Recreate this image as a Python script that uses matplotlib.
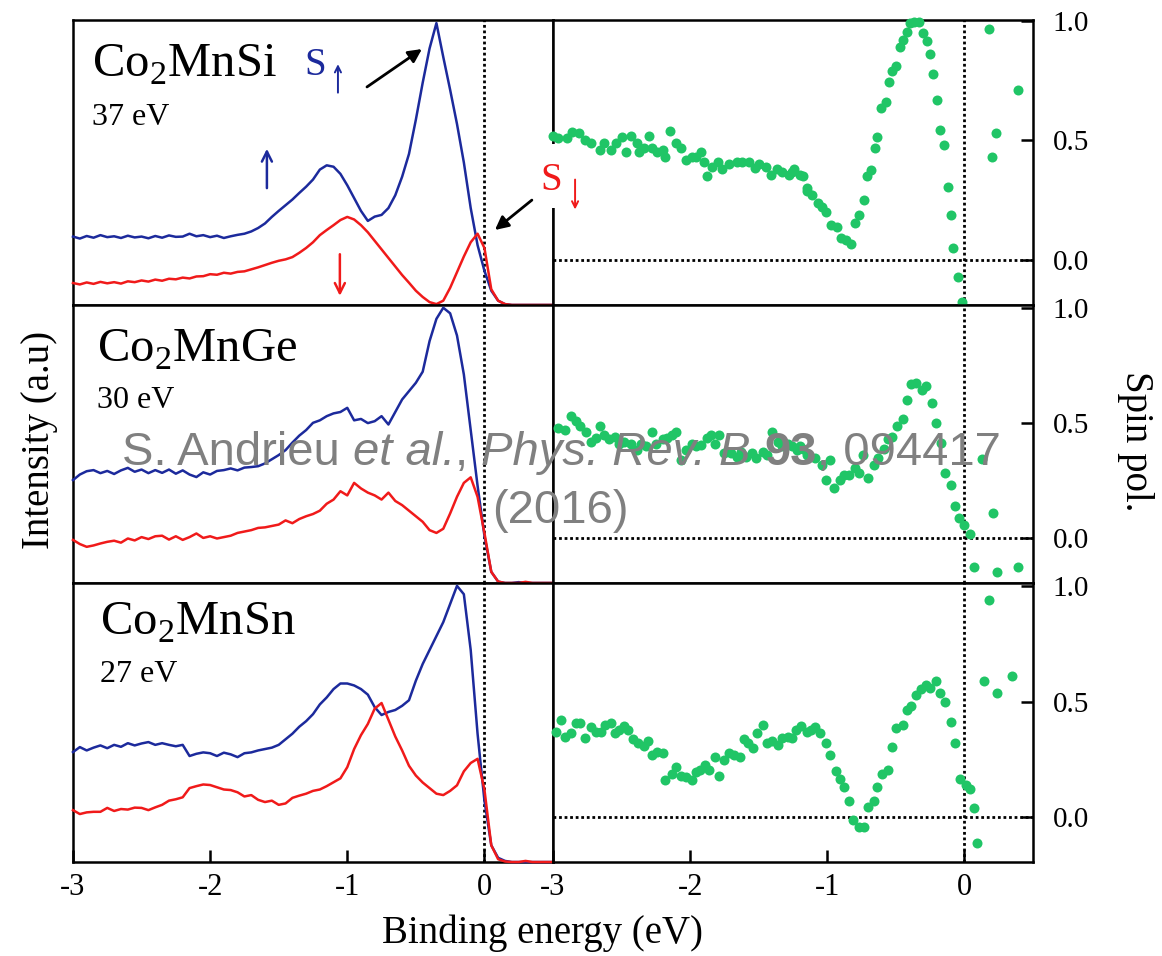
import matplotlib
matplotlib.use("Agg")
import matplotlib.pyplot as plt
from matplotlib.patches import FancyArrowPatch, Rectangle

plt.rcParams['font.family'] = ['Liberation Serif', 'DejaVu Serif']
plt.rcParams['axes.unicode_minus'] = False

# ---------------- data ----------------
compounds = ['Co$_{\\mathregular{2}}$MnSi', 'Co$_{\\mathregular{2}}$MnGe', 'Co$_{\\mathregular{2}}$MnSn']
photon = ['37 eV', '30 eV', '27 eV']

energy = [-3.00, -2.95, -2.90, -2.85, -2.80, -2.75, -2.70, -2.65, -2.60, -2.55,
          -2.50, -2.45, -2.40, -2.35, -2.30, -2.25, -2.20, -2.15, -2.10, -2.05,
          -2.00, -1.95, -1.90, -1.85, -1.80, -1.75, -1.70, -1.65, -1.60, -1.55,
          -1.50, -1.45, -1.40, -1.35, -1.30, -1.25, -1.20, -1.15, -1.10, -1.05,
          -1.00, -0.95, -0.90, -0.85, -0.80, -0.75, -0.70, -0.65, -0.60, -0.55,
          -0.50, -0.45, -0.40, -0.35, -0.30, -0.25, -0.20, -0.15, -0.10, -0.05,
          0.00, 0.05, 0.10, 0.15, 0.20, 0.25, 0.30, 0.35, 0.40, 0.45, 0.50]

# intensities in % of panel height
si_up = [24.0, 23.3, 24.2, 23.6, 24.5, 23.8, 24.1, 23.5, 24.3, 23.7,
         24.0, 23.4, 24.2, 23.6, 24.4, 23.9, 24.0, 25.0, 24.1, 24.5,
         23.8, 24.3, 23.5, 24.1, 24.6, 25.0, 25.8, 27.0, 28.6, 30.9,
         33.0, 35.0, 37.0, 39.3, 41.5, 44.0, 47.5, 49.0, 48.5, 46.0,
         42.0, 37.5, 33.0, 29.5, 31.0, 31.6, 34.0, 38.5, 45.0, 53.0,
         65.0, 78.0, 90.0, 98.9, 87.0, 75.5, 63.5, 50.0, 34.0, 21.0,
         12.0, 5.0, 1.5, 0.3, 0.0, 0.0, 0.0, 0.0, 0.0, 0.0, 0.0]
si_dn = [7.7, 7.2, 7.9, 7.4, 8.1, 7.6, 8.0, 7.5, 8.3, 8.0,
         8.6, 8.2, 8.9, 8.5, 9.2, 9.0, 9.6, 9.3, 10.0, 10.1,
         10.8, 10.6, 11.3, 11.0, 11.6, 11.8, 12.5, 13.2, 14.0, 14.8,
         15.5, 16.0, 16.8, 18.3, 20.0, 22.0, 24.5, 26.3, 28.0, 29.8,
         30.9, 30.0, 28.0, 25.5, 22.5, 19.5, 16.5, 13.5, 10.5, 7.8,
         5.0, 2.8, 1.0, 0.3, 1.5, 6.0, 11.5, 17.0, 22.0, 25.0,
         20.0, 5.5, 1.5, 0.3, 0.0, 0.0, 0.0, 0.0, 0.0, 0.0, 0.0]
ge_up = [37.0, 39.0, 40.2, 40.6, 39.5, 40.3, 39.2, 40.5, 41.4, 40.0,
         40.8, 39.5, 40.6, 39.6, 40.8, 39.3, 40.5, 39.0, 38.1, 39.8,
         39.0, 40.3, 40.6, 41.2, 40.5, 41.5, 41.7, 42.0, 43.0, 44.5,
         46.0, 47.8, 50.5, 53.0, 55.0, 57.6, 58.5, 60.0, 61.0, 61.5,
         63.0, 58.5, 59.0, 57.5, 58.2, 60.0, 57.0, 61.5, 66.0, 69.0,
         72.0, 76.0, 87.0, 95.0, 99.0, 97.0, 89.0, 75.0, 55.0, 35.0,
         17.0, 4.0, 0.5, 0.0, 0.0, 0.3, 0.0, 0.0, 0.0, 0.0, 0.0]
ge_dn = [15.5, 14.0, 13.0, 13.5, 14.2, 14.8, 15.2, 14.5, 16.0, 15.3,
         16.5, 15.8, 16.8, 17.0, 15.6, 16.8, 15.5, 16.5, 17.8, 16.2,
         16.8, 16.0, 16.5, 17.0, 18.0, 18.5, 19.0, 19.8, 20.0, 20.5,
         21.0, 22.5, 21.5, 23.0, 24.0, 24.8, 26.0, 28.5, 30.0, 33.0,
         31.5, 36.0, 34.0, 32.5, 31.5, 30.0, 32.5, 29.5, 28.0, 26.0,
         24.0, 22.0, 19.0, 18.0, 19.5, 25.0, 31.0, 36.0, 38.0, 31.0,
         18.0, 4.0, 0.5, 0.0, 0.0, 0.0, 0.4, 0.0, 0.0, 0.0, 0.0]
sn_up = [39.4, 41.2, 40.0, 41.0, 41.8, 40.8, 42.0, 41.3, 42.6, 41.8,
         42.5, 43.0, 42.0, 42.6, 42.0, 41.5, 42.0, 38.0, 38.8, 39.3,
         39.0, 38.0, 39.2, 38.6, 37.6, 39.0, 39.3, 40.0, 40.5, 41.0,
         42.0, 44.0, 46.0, 48.5, 50.5, 53.0, 56.5, 59.0, 62.0, 64.0,
         64.0, 63.3, 62.0, 60.0, 55.5, 52.7, 53.8, 54.5, 56.0, 58.0,
         65.0, 71.0, 76.0, 81.0, 86.0, 92.5, 99.0, 96.0, 76.0, 46.0,
         22.0, 6.0, 1.5, 0.4, 0.0, 0.0, 0.0, 0.0, 0.0, 0.0, 0.0]
sn_dn = [18.6, 17.2, 17.8, 18.0, 18.0, 19.4, 18.3, 19.0, 18.8, 19.5,
         19.4, 18.6, 19.6, 20.5, 22.0, 22.5, 23.2, 26.5, 27.2, 27.8,
         27.6, 26.8, 26.0, 25.8, 25.0, 23.5, 24.0, 22.3, 21.5, 22.0,
         20.5, 21.0, 23.0, 23.8, 24.5, 25.5, 26.0, 27.2, 28.6, 30.0,
         34.0, 40.5, 45.5, 49.5, 55.0, 57.0, 51.0, 45.0, 40.0, 34.5,
         31.0, 28.5, 26.5, 24.5, 24.0, 25.5, 27.5, 32.5, 35.5, 37.0,
         26.0, 6.0, 1.0, 0.2, 0.0, 0.0, 0.4, 0.0, 0.0, 0.0, 0.0]

# spin polarisation
si_pol_x = [-3.00, -2.96, -2.90, -2.86, -2.81, -2.77, -2.72, -2.66, -2.63, -2.58,
            -2.54, -2.50, -2.47, -2.43, -2.39, -2.37, -2.34, -2.30, -2.28, -2.24,
            -2.20, -2.18, -2.15, -2.10, -2.07, -2.03, -1.99, -1.96, -1.92, -1.90,
            -1.88, -1.84, -1.80, -1.77, -1.72, -1.66, -1.62, -1.57, -1.53, -1.50,
            -1.45, -1.41, -1.37, -1.33, -1.28, -1.26, -1.24, -1.20, -1.18, -1.15,
            -1.15, -1.11, -1.07, -1.04, -1.01, -0.97, -0.93, -0.90, -0.86, -0.83,
            -0.80, -0.77, -0.73, -0.71, -0.68, -0.65, -0.64, -0.61, -0.57, -0.55,
            -0.53, -0.50, -0.47, -0.45, -0.42, -0.40, -0.37, -0.33, -0.30, -0.27,
            -0.25, -0.23, -0.20, -0.18, -0.15, -0.12, -0.10, -0.08, -0.05, -0.02,
            0.18, 0.20, 0.23, 0.39]
si_pol_y = [0.52, 0.51, 0.51, 0.535, 0.53, 0.50, 0.49, 0.46, 0.49, 0.46,
            0.49, 0.515, 0.45, 0.52, 0.49, 0.45, 0.47, 0.52, 0.47, 0.45,
            0.46, 0.43, 0.54, 0.49, 0.47, 0.42, 0.43, 0.43, 0.45, 0.41,
            0.35, 0.39, 0.41, 0.38, 0.40, 0.41, 0.41, 0.41, 0.385, 0.40,
            0.39, 0.355, 0.38, 0.37, 0.355, 0.37, 0.38, 0.355, 0.35, 0.29,
            0.30, 0.27, 0.24, 0.22, 0.20, 0.145, 0.14, 0.09, 0.085, 0.067,
            0.155, 0.19, 0.25, 0.35, 0.375, 0.47, 0.515, 0.635, 0.66, 0.745,
            0.79, 0.81, 0.89, 0.92, 0.955, 0.99, 0.995, 0.995, 0.95, 0.915,
            0.86, 0.78, 0.67, 0.545, 0.48, 0.305, 0.19, 0.05, -0.07, -0.175,
            0.965, 0.43, 0.53, 0.71]
ge_pol_x = [-2.96, -2.91, -2.87, -2.83, -2.80, -2.76, -2.72, -2.69, -2.66, -2.63,
            -2.59, -2.55, -2.52, -2.48, -2.43, -2.39, -2.36, -2.32, -2.28, -2.25,
            -2.20, -2.17, -2.13, -2.10, -2.07, -2.03, -1.99, -1.96, -1.92, -1.88,
            -1.85, -1.82, -1.79, -1.75, -1.70, -1.66, -1.63, -1.59, -1.55, -1.52,
            -1.47, -1.44, -1.40, -1.36, -1.33, -1.29, -1.26, -1.22, -1.20, -1.18,
            -1.15, -1.09, -1.04, -1.01, -0.98, -0.95, -0.91, -0.88, -0.84, -0.80,
            -0.77, -0.74, -0.70, -0.66, -0.63, -0.59, -0.56, -0.53, -0.49, -0.45,
            -0.42, -0.39, -0.35, -0.31, -0.28, -0.24, -0.21, -0.17, -0.14, -0.10,
            -0.07, -0.04, 0.00, 0.04, 0.07, 0.13, 0.21, 0.24, 0.39]
ge_pol_y = [0.48, 0.47, 0.53, 0.51, 0.49, 0.46, 0.42, 0.435, 0.49, 0.45,
            0.43, 0.44, 0.41, 0.42, 0.41, 0.385, 0.41, 0.40, 0.46, 0.41,
            0.43, 0.435, 0.45, 0.46, 0.34, 0.385, 0.41, 0.40, 0.405, 0.435,
            0.45, 0.41, 0.45, 0.37, 0.37, 0.355, 0.375, 0.355, 0.37, 0.35,
            0.375, 0.36, 0.46, 0.42, 0.40, 0.41, 0.40, 0.385, 0.40, 0.39,
            0.36, 0.35, 0.32, 0.255, 0.34, 0.22, 0.255, 0.275, 0.275, 0.305,
            0.285, 0.36, 0.26, 0.32, 0.35, 0.39, 0.43, 0.44, 0.49, 0.52,
            0.60, 0.67, 0.675, 0.645, 0.66, 0.59, 0.50, 0.415, 0.285, 0.23,
            0.14, 0.09, 0.06, 0.02, -0.125, 0.345, 0.11, -0.145, -0.125]
sn_pol_x = [-2.98, -2.94, -2.91, -2.87, -2.83, -2.80, -2.77, -2.72, -2.69, -2.65,
            -2.62, -2.58, -2.55, -2.52, -2.48, -2.45, -2.42, -2.38, -2.34, -2.31,
            -2.28, -2.24, -2.20, -2.18, -2.13, -2.10, -2.07, -2.03, -1.99, -1.96,
            -1.93, -1.89, -1.86, -1.82, -1.79, -1.75, -1.72, -1.68, -1.64, -1.61,
            -1.58, -1.54, -1.51, -1.47, -1.44, -1.40, -1.36, -1.33, -1.29, -1.26,
            -1.23, -1.19, -1.15, -1.12, -1.09, -1.05, -1.01, -0.98, -0.94, -0.91,
            -0.88, -0.84, -0.81, -0.77, -0.73, -0.70, -0.66, -0.64, -0.60, -0.56,
            -0.53, -0.50, -0.45, -0.42, -0.39, -0.35, -0.32, -0.28, -0.25, -0.21,
            -0.18, -0.14, -0.10, -0.07, -0.03, 0.01, 0.04, 0.07, 0.09, 0.14,
            0.18, 0.24, 0.35]
sn_pol_y = [0.37, 0.42, 0.35, 0.365, 0.41, 0.41, 0.345, 0.39, 0.37, 0.37,
            0.40, 0.41, 0.365, 0.38, 0.395, 0.38, 0.34, 0.32, 0.31, 0.33,
            0.27, 0.285, 0.28, 0.16, 0.19, 0.22, 0.18, 0.175, 0.16, 0.195,
            0.205, 0.225, 0.205, 0.26, 0.18, 0.25, 0.28, 0.27, 0.26, 0.34,
            0.32, 0.30, 0.365, 0.40, 0.32, 0.33, 0.315, 0.345, 0.35, 0.345,
            0.38, 0.395, 0.37, 0.38, 0.39, 0.365, 0.32, 0.27, 0.20, 0.165,
            0.13, 0.07, -0.01, -0.04, -0.04, 0.045, 0.07, 0.13, 0.19, 0.205,
            0.305, 0.385, 0.40, 0.465, 0.48, 0.53, 0.555, 0.575, 0.56, 0.59,
            0.54, 0.50, 0.415, 0.32, 0.165, 0.14, 0.125, 0.04, -0.11, 0.59,
            0.94, 0.54, 0.61]

# citation text pieces: (text, style, weight, space after)
cite_pieces = [('S. Andrieu', 'normal', 'normal', True),
               ('et al.', 'italic', 'normal', False),
               (',', 'normal', 'normal', True),
               ('Phys. Rev. B', 'italic', 'normal', True),
               ('93', 'normal', 'bold', False),
               (', 094417', 'normal', 'normal', False)]
cite_year = '(2016)'

ups = [si_up, ge_up, sn_up]
downs = [si_dn, ge_dn, sn_dn]
pol_x = [si_pol_x, ge_pol_x, sn_pol_x]
pol_y = [si_pol_y, ge_pol_y, sn_pol_y]

BLUE = '#1c2a9c'
RED = '#f01a1a'
GREEN = '#20c566'
DOT = (0, (1, 1))

fig = plt.figure(figsize=(11.62, 9.56), dpi=100)

rows = [(0.6810, 0.2981), (0.3902, 0.2908), (0.0983, 0.2918)]
label_pos = [(0.040, 0.800, 0.632), (0.050, 0.795, 0.630), (0.056, 0.814, 0.645)]
pol_lims = [(-0.188, 1.004), (-0.194, 1.014), (-0.193, 1.014)]
left_x0, right_x0, w = 0.0628, 0.4759, 0.4131

left_axes = []
for i, (b, h) in enumerate(rows):
    axl = fig.add_axes([left_x0, b, w, h])
    axr = fig.add_axes([right_x0, b, w, h])
    left_axes.append(axl)

    axl.plot(energy, ups[i], color=BLUE, lw=1.8, clip_on=False, zorder=3)
    axl.plot(energy, downs[i], color=RED, lw=1.8, clip_on=False, zorder=3)
    axl.axvline(0, color='black', lw=2, ls=DOT, zorder=2)
    axl.set_xlim(-3, 0.5)
    axl.set_ylim(0, 100)
    axl.set_yticks([])

    axr.plot(pol_x[i], pol_y[i], 'o', color=GREEN, ms=7.2, mew=0, clip_on=False, zorder=3)
    axr.axvline(0, color='black', lw=2, ls=DOT, zorder=2)
    axr.axhline(0, color='black', lw=2, ls=DOT, zorder=2)
    axr.set_xlim(-3, 0.5)
    axr.set_ylim(*pol_lims[i])
    axr.set_yticks([0, 0.5, 1.0])
    axr.set_yticklabels(['0.0', '0.5', '1.0'])
    axr.tick_params(axis='y', left=False, right=True, labelleft=False, labelright=True,
                    direction='in', length=9, width=1.8, pad=14, labelsize=21)

    for ax in (axl, axr):
        for s in ax.spines.values():
            s.set_linewidth(1.8)
        if i == 2:
            ax.set_xticks([-3, -2, -1, 0])
            ax.set_xticklabels(['-3', '-2', '-1', '0'])
            ax.tick_params(axis='x', direction='in', length=9, width=1.8, pad=8, labelsize=22)
        else:
            ax.set_xticks([])

    xl, yc, ye = label_pos[i]
    axl.text(xl, yc, compounds[i], transform=axl.transAxes, fontsize=35, va='baseline')
    axl.text(xl, ye, photon[i], transform=axl.transAxes, fontsize=23, va='baseline')

# annotations in the top left panel
ax0 = left_axes[0]


def arrow(p0, p1, color, style='->', lw=1.8, scale=18):
    a = FancyArrowPatch(p0, p1, transform=ax0.transAxes, arrowstyle=style, color=color,
                        lw=lw, mutation_scale=scale, shrinkA=0, shrinkB=0, zorder=6)
    fig.add_artist(a)


ax0.text(0.483, 0.807, 'S', transform=ax0.transAxes, color=BLUE, fontsize=28, va='baseline')
arrow((0.552, 0.745), (0.552, 0.845), BLUE, lw=1.4, scale=11)
arrow((0.404, 0.41), (0.404, 0.548), BLUE)
arrow((0.556, 0.178), (0.556, 0.032), RED)
arrow((0.6125, 0.765), (0.727, 0.898), 'black', style='-|>', lw=2, scale=20)
arrow((0.956, 0.368), (0.879, 0.263), 'black', style='-|>', lw=2, scale=20)

# white gap in the shared spine behind the S-down label
fig.add_artist(Rectangle((0.975, 0.34), 0.04, 0.225, transform=ax0.transAxes,
                         fc='white', ec='none', zorder=4))
fig.text(0.973, 0.404, 'S', transform=ax0.transAxes, color=RED, fontsize=28, va='baseline',
         zorder=5)
arrow((1.046, 0.44), (1.046, 0.335), RED, lw=1.4, scale=11)

fig.text(0.034, 0.54, 'Intensity (a.u)', rotation=90, ha='center', va='center', fontsize=28)
fig.text(0.977, 0.538, 'Spin pol.', rotation=270, ha='center', va='center', fontsize=28)
fig.text(0.467, 0.024, 'Binding energy (eV)', ha='center', va='center', fontsize=28)

# citation overlay, laid out piece by piece
wm = dict(fontsize=34, color='#808080', family='Liberation Sans', va='baseline', zorder=10)
renderer = fig.canvas.get_renderer()
fig_w = fig.bbox.width


def text_width(s, **kw):
    t = fig.text(0, 0, s, **wm, **kw)
    wpx = t.get_window_extent(renderer).width
    t.remove()
    return wpx


space = text_width('S S') - text_width('SS')
widths = [text_width(s, style=st, weight=wt) for s, st, wt, _ in cite_pieces]
total = sum(widths) + space * sum(sp for *_, sp in cite_pieces[:-1])
x = 0.483 * fig_w - total / 2
for (s, st, wt, sp), wpx in zip(cite_pieces, widths):
    fig.text(x / fig_w, 0.5136, s, style=st, weight=wt, **wm)
    x += wpx + (space if sp else 0)
fig.text(0.482, 0.453, cite_year, ha='center', **wm)

fig.savefig('out.png', dpi=100)
